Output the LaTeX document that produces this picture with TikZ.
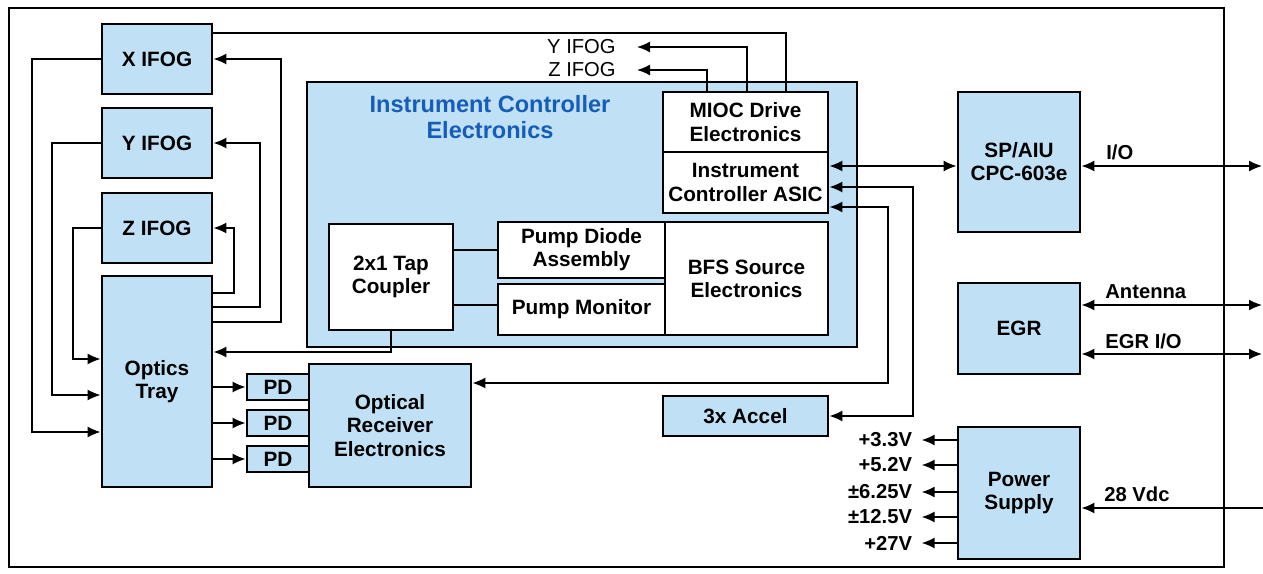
\documentclass[tikz,border=0pt]{standalone}
\usepackage{fontspec}
\setmainfont{Liberation Sans}
\usetikzlibrary{arrows.meta,positioning,calc}
\definecolor{vkek}{RGB}{192,225,245}
\definecolor{ckek}{RGB}{22,92,185}
\tikzset{
  dob/.style={draw,line width=1.6pt,fill=vkek,inner sep=2pt,align=center,
    font=\fontsize{11.8}{13.2}\selectfont\bfseries},
  feh/.style={dob,fill=white},
  cim/.style={inner sep=0pt,font=\fontsize{11.5}{13}\selectfont\bfseries},
  vcim/.style={inner sep=0pt,font=\fontsize{11.5}{13}\selectfont},
  vez/.style={line width=0.9pt},
  nyil/.style={vez,-{Latex[length=2.6mm,width=2.2mm]}},
  ket/.style={vez,{Latex[length=2.6mm,width=2.2mm]}-{Latex[length=2.6mm,width=2.2mm]}},
}

\begin{document}
\begin{tikzpicture}[x=0.02cm,y=-0.02cm]
  \useasboundingbox (0,0) rectangle (1263,574);
  \draw[line width=1.6pt] (9,8) rectangle (1224,567);

  % giroszkopok, optikai talca
  \node[dob,minimum width=2.2cm,minimum height=1.4cm] (xifog) at (157,59) {X IFOG};
  \node[dob,minimum width=2.2cm,minimum height=1.4cm] (yifog) at (157,143) {Y IFOG};
  \node[dob,minimum width=2.2cm,minimum height=1.4cm] (zifog) at (157,228) {Z IFOG};
  \node[dob,minimum width=2.2cm,minimum height=4.22cm] (talca) at (157,381.5) {Optics\\Tray};

  % vezerlo elektronika
  \node[dob,minimum width=11cm,minimum height=5.3cm] (ice) at (582,214.5) {};
  \node[inner sep=0pt,align=center,text=ckek,font=\fontsize{13.4}{14.5}\selectfont\bfseries]
    (icecim) at (490,117) {Instrument Controller\\Electronics};
  \node[feh,minimum width=3.3cm,minimum height=1.2cm] (mioc) at (745.5,122) {MIOC Drive\\Electronics};
  \node[feh,minimum width=3.3cm,minimum height=1.22cm] (asic) at (745.5,182.5) {Instrument\\Controller ASIC};
  \node[feh,minimum width=2.48cm,minimum height=2.12cm] (tap) at (391,277) {2x1 Tap\\Coupler};
  \node[feh,minimum width=3.34cm,minimum height=1.12cm] (dioda) at (581.5,250) {Pump Diode\\Assembly};
  \node[feh,minimum width=3.34cm,minimum height=1.02cm] (monitor) at (581.5,309.5) {Pump Monitor};
  \node[feh,minimum width=3.26cm,minimum height=2.26cm] (bfs) at (746.5,278.5) {BFS Source\\Electronics};

  % vevo, gyorsulasmerok
  \node[dob,minimum width=3.24cm,minimum height=2.46cm] (vevo) at (390,425.5) {Optical\\Receiver\\Electronics};
  \foreach \i/\y in {1/387,2/423,3/459}
    \node[dob,minimum width=1.24cm,minimum height=0.52cm] (pd\i) at (278,\y) {PD};
  \node[dob,minimum width=3.3cm,minimum height=0.8cm] (accel) at (745.5,416) {3x Accel};

  % jobb oldali blokkok
  \node[dob,minimum width=2.44cm,minimum height=2.8cm] (spaiu) at (1019,162) {SP/AIU\\CPC-603e};
  \node[dob,minimum width=2.44cm,minimum height=1.82cm] (egr) at (1019,328.5) {EGR};
  \node[dob,minimum width=2.44cm,minimum height=2.64cm] (tap28) at (1019,493) {Power\\Supply};

  % IFOG hurkok
  \draw[nyil] (xifog.west) -| (32,432) -- (talca.west |- 0,432);
  \draw[nyil] (yifog.west) -| (52,395) -- (talca.west |- 0,395);
  \draw[nyil] (zifog.west) -| (73,359) -- (talca.west |- 0,359);
  \draw[nyil] (talca.east |- 0,322) -| (281,59) -- (xifog.east);
  \draw[nyil] (talca.east |- 0,307) -| (260,143) -- (yifog.east);
  \draw[nyil] (talca.east |- 0,293) -| (234,228) -- (zifog.east);
  \draw[vez] (xifog.east |- 0,33) -| (mioc.north -| 786,0);

  % MIOC kimenetek
  \node[vcim,anchor=east] (ylab) at (616,47) {Y IFOG};
  \node[vcim,anchor=east] (zlab) at (616,70) {Z IFOG};
  \draw[nyil] (mioc.north -| 747,0) |- ([xshift=0.42cm]ylab.east);
  \draw[nyil] (mioc.north -| 707,0) |- ([xshift=0.42cm]zlab.east);

  % belso optika
  \draw[vez] (tap.east |- 0,250) -- (dioda.west |- 0,250);
  \draw[vez] (tap.east |- 0,305) -- (monitor.west |- 0,305);
  \draw[nyil] (tap.south) |- (talca.east |- 0,352);
  \foreach \i in {1,2,3}
    \draw[nyil] (talca.east |- pd\i) -- (pd\i.west);

  % ASIC kapcsolatok
  \draw[ket] (asic.east |- 0,166) -- (spaiu.west |- 0,166);
  \draw[ket] (asic.east |- 0,187) -| (913,416) -- (accel.east);
  \draw[ket] (asic.east |- 0,207) -| (888,383) -- (vevo.east |- 0,383);

  % kulso csatlakozasok
  \coordinate (io) at (1262,166);
  \coordinate (ant) at (1262,305);
  \coordinate (egrio) at (1262,354);
  \coordinate (bemenet) at (1263,508);
  \draw[ket] (spaiu.east |- io) -- (io);
  \draw[ket] (egr.east |- ant) -- (ant);
  \draw[ket] (egr.east |- egrio) -- (egrio);
  \draw[nyil] (bemenet) -- (tap28.east |- bemenet);
  \node[cim,anchor=west] (iocim) at (1106,152) {I/O};
  \node[cim,anchor=west] (antcim) at (1105,292) {Antenna};
  \node[cim,anchor=west] (egrcim) at (1105,341) {EGR I/O};
  \node[cim,anchor=west] (vdccim) at (1104,494) {28 Vdc};

  % tapfeszultsegek
  \foreach \y/\t [count=\i] in {440/+3.3V,465/+5.2V,492/±6.25V,517/±12.5V,543/+27V}
    \draw[nyil] (tap28.west |- 0,\y) -- ++(-35,0) node[cim,left=5pt] (fesz\i) {\t};
\end{tikzpicture}
\end{document}
